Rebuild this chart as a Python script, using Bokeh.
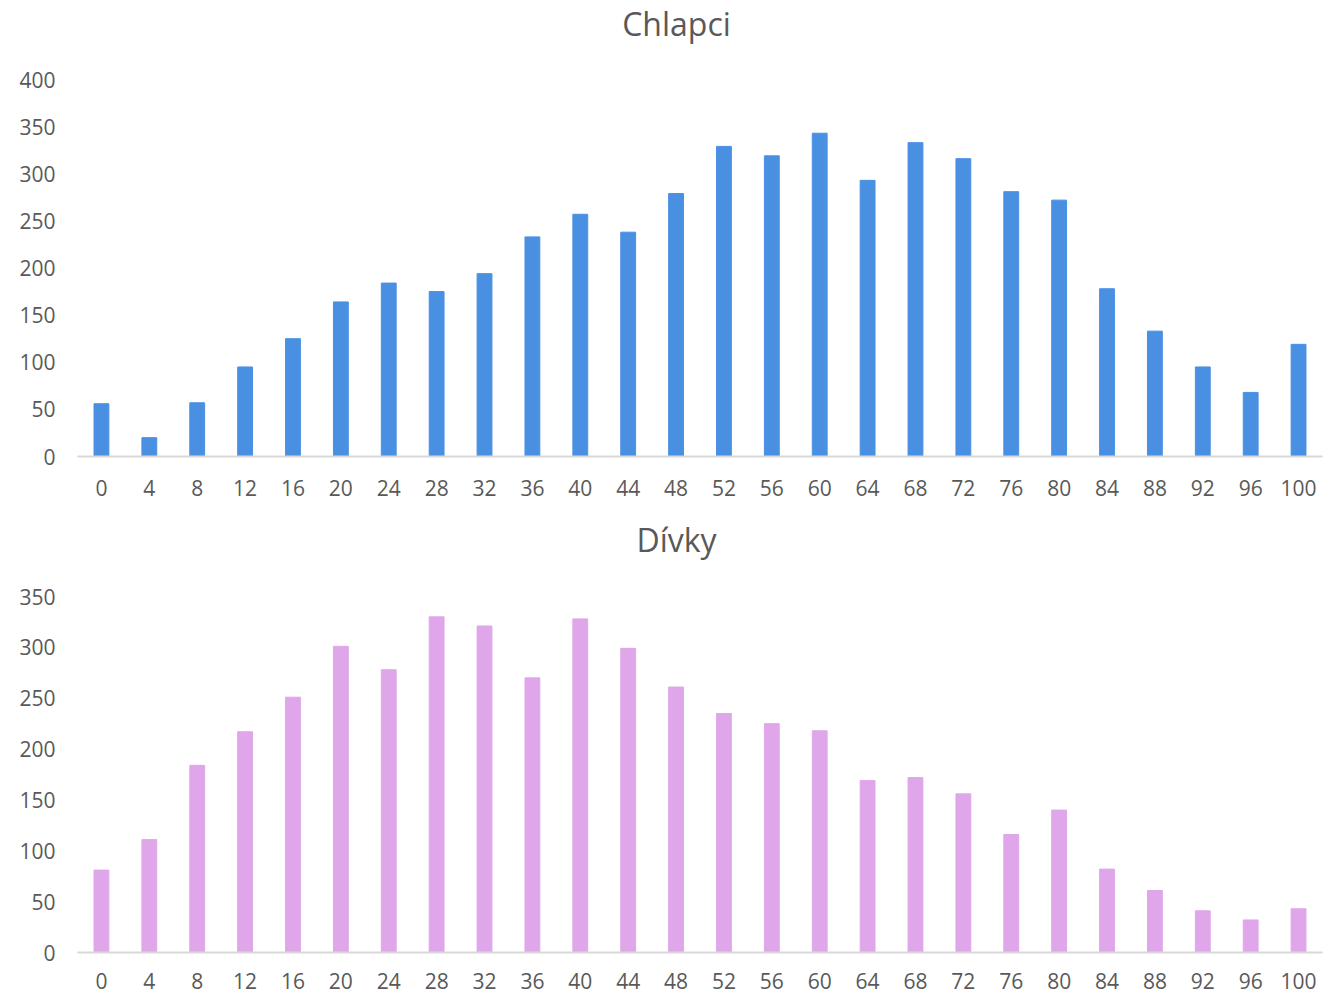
from bokeh.plotting import figure
from bokeh.layouts import column
from bokeh.models import FactorRange, Range1d, FixedTicker, Label
from bokeh.embed import file_html
from bokeh.resources import INLINE

categories = ["0", "4", "8", "12", "16", "20", "24", "28", "32", "36", "40", "44", "48",
              "52", "56", "60", "64", "68", "72", "76", "80", "84", "88", "92", "96", "100"]
boys = [56, 20, 57, 95, 125, 164, 184, 175, 194, 233, 257, 238, 279,
        329, 319, 343, 293, 333, 316, 281, 272, 178, 133, 95, 68, 119]
girls = [81, 111, 184, 217, 251, 301, 278, 330, 321, 270, 328, 299, 261,
         235, 225, 218, 169, 172, 156, 116, 140, 82, 61, 41, 32, 43]
boys_title = "Chlapci"
girls_title = "Dívky"
boys_ticks = [0, 50, 100, 150, 200, 250, 300, 350, 400]
girls_ticks = [0, 50, 100, 150, 200, 250, 300, 350]

FONT = "Open Sans"
TXT = "#595959"
FIG_W = 1329
LEFT = 77
RIGHT = 7


def make(title, values, color, ymax, ticks, height, data_top, bbottom, xstand, title_base):
    # data_top: pixel distance from the figure top to the ymax tick;
    # the space above it (title area) is kept inside the invisible frame.
    frame_h = height - bbottom
    data_h = frame_h - data_top
    y_end = ymax * frame_h / data_h
    p = figure(x_range=FactorRange(*categories, range_padding=0),
               y_range=Range1d(0, y_end),
               width=FIG_W, height=height, output_backend="svg",
               toolbar_location=None,
               min_border_left=LEFT, min_border_right=RIGHT,
               min_border_top=0, min_border_bottom=bbottom)
    p.vbar(x=categories, top=values, width=0.31, color=color)
    p.outline_line_color = None
    p.xgrid.grid_line_color = None
    p.ygrid.grid_line_color = None
    p.yaxis.ticker = FixedTicker(ticks=ticks)
    for ax in (p.xaxis[0], p.yaxis[0]):
        ax.major_tick_line_color = None
        ax.minor_tick_line_color = None
        ax.major_tick_out = 0
        ax.major_tick_in = 0
        ax.major_label_text_font = FONT
        ax.major_label_text_font_size = "21px"
        ax.major_label_text_color = TXT
    p.yaxis.axis_line_color = None
    p.yaxis.major_label_standoff = 22
    p.xaxis.axis_line_color = "#d9d9d9"
    p.xaxis.axis_line_width = 2
    p.xaxis.major_label_standoff = xstand

    frame_w = FIG_W - LEFT - RIGHT
    tx = (676 - LEFT) / frame_w * len(categories)
    ty = (frame_h - title_base) * ymax / data_h
    p.add_layout(Label(x=tx, y=ty, text=title, text_align="center",
                       text_baseline="alphabetic", text_font=FONT,
                       text_font_size="32px", text_color=TXT))
    return p


p1 = make(boys_title, boys, "#4a90e2", 400, boys_ticks, 508, 79, 52, 23, 22.5)
p2 = make(girls_title, girls, "#e0a6ea", 350, girls_ticks, 487, 88, 43, 20, 31)

layout = column(p1, p2, spacing=0)
open("out.html", "w").write(file_html(layout, INLINE))
